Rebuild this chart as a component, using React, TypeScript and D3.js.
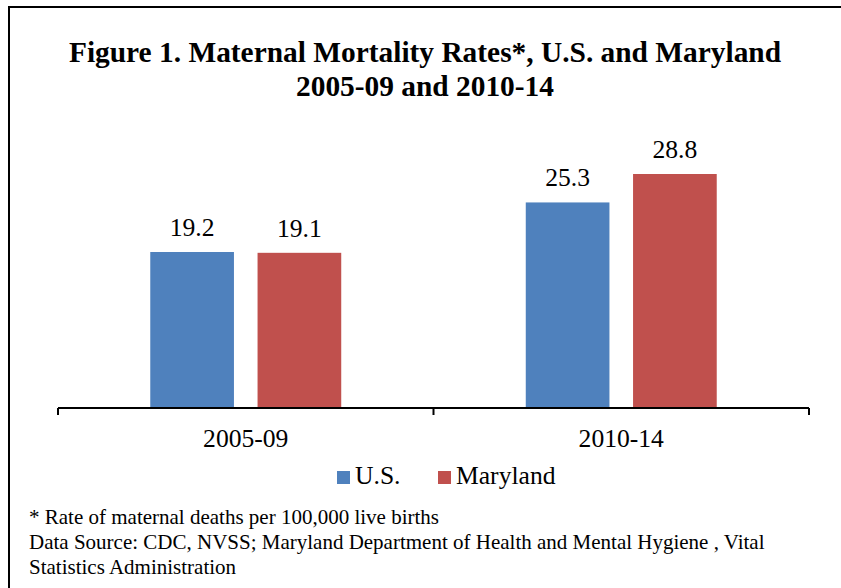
import React from 'react';
import * as d3 from 'd3';

const width = 841;
const height = 588;

const periods = ['2005-09', '2010-14'];
const seriesNames = ['U.S.', 'Maryland'];
const usValues = [19.2, 25.3];
const marylandValues = [19.1, 28.8];
const colors = ['#4F81BD', '#C0504D'];

const titleLines = [
  'Figure 1. Maternal Mortality Rates*, U.S. and Maryland',
  '2005-09 and 2010-14',
];
const footLines = [
  '* Rate of maternal deaths per 100,000 live births',
  'Data Source: CDC, NVSS; Maryland Department of Health and Mental Hygiene , Vital',
  'Statistics Administration',
];

const font = '"Liberation Serif", "Times New Roman", serif';

const axisY = 408;
const labelSize = 25.6;

const x0 = d3.scaleBand().domain(periods).range([58, 809]).padding(0);
const x1 = d3.scaleBand()
  .domain(seriesNames)
  .range([0, x0.bandwidth()])
  .paddingInner(0.22)
  .paddingOuter(0.86);
const y = d3.scaleLinear().domain([0, 35]).range([axisY, axisY - 35 * 8.125]);

const series = [usValues, marylandValues];

const App = () => (
  <svg
    width={width}
    height={height}
    style={{ position: 'absolute', left: 0, top: 0, background: 'white' }}
    fontFamily={font}
  >
    <rect x={0} y={0} width={width} height={height} fill="white" />
    {/* border, runs off the right and bottom edge */}
    <path d={`M9,${height + 5} V7 H${width + 5}`} fill="none" stroke="black" strokeWidth={2} />

    {titleLines.map((t, i) => (
      <text key={t} x={425} y={61.5 + i * 34} textAnchor="middle" fontSize={29.4} fontWeight="bold">
        {t}
      </text>
    ))}

    {periods.map((p, i) => (
      <g key={p} transform={`translate(${x0(p)},0)`}>
        {seriesNames.map((s, j) => {
          const v = series[j][i];
          const bx = x1(s) as number;
          return (
            <g key={s}>
              <rect
                x={bx}
                y={y(v)}
                width={x1.bandwidth()}
                height={axisY - y(v)}
                fill={colors[j]}
              />
              <text
                x={bx + x1.bandwidth() / 2}
                y={y(v) - 16}
                textAnchor="middle"
                fontSize={labelSize}
              >
                {v.toFixed(1)}
              </text>
            </g>
          );
        })}
        <text x={x0.bandwidth() / 2} y={447} textAnchor="middle" fontSize={labelSize}>
          {p}
        </text>
      </g>
    ))}

    {/* category axis */}
    <line x1={58} x2={809} y1={axisY} y2={axisY} stroke="black" strokeWidth={2} />
    {[...periods.map((p) => x0(p) as number), 809].map((tx) => (
      <line key={tx} x1={tx} x2={tx} y1={axisY} y2={axisY + 7} stroke="black" strokeWidth={2} />
    ))}

    {/* legend */}
    <g>
      <rect x={337} y={471} width={13} height={13} fill={colors[0]} />
      <text x={355} y={484} fontSize={labelSize}>{seriesNames[0]}</text>
      <rect x={438} y={471} width={13} height={13} fill={colors[1]} />
      <text x={456} y={484} fontSize={labelSize}>{seriesNames[1]}</text>
    </g>

    {footLines.map((t, i) => (
      <text key={t} x={29} y={524 + i * 25} fontSize={21}>
        {t}
      </text>
    ))}
  </svg>
);

export default App;
